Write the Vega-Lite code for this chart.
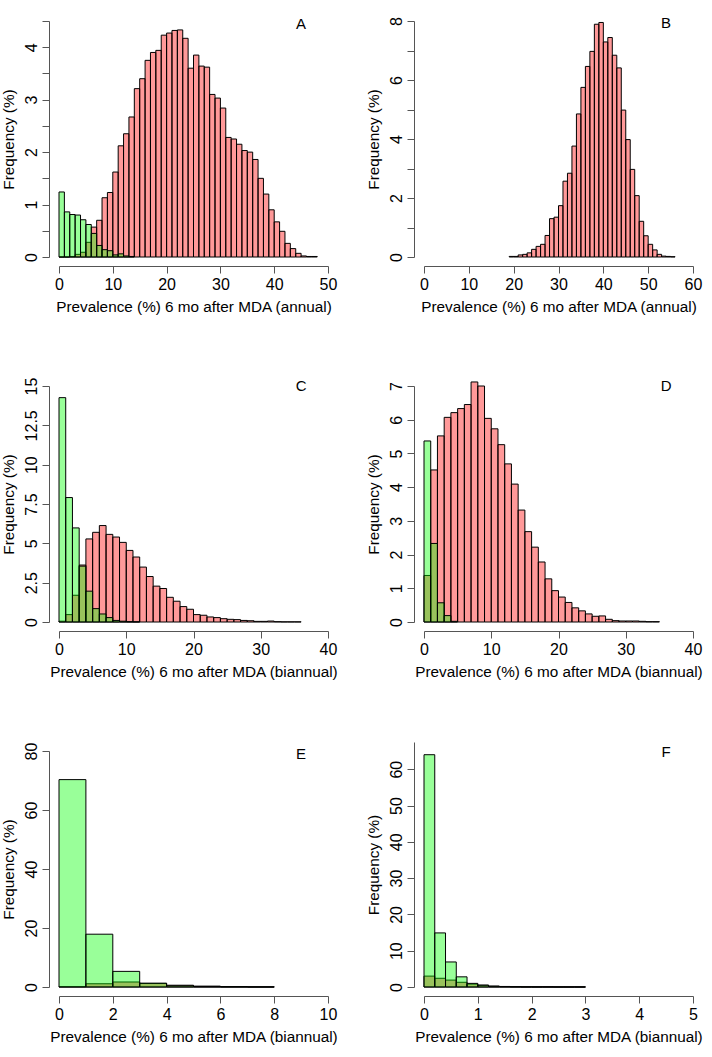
{
  "$schema": "https://vega.github.io/schema/vega-lite/v6.json",
  "padding": {"left": 1, "top": 16, "right": 5, "bottom": 5},
  "columns": 2,
  "bounds": "flush",
  "spacing": {"row": 129, "column": 96},
  "datasets": {
    "labels": [{"panel": "A"}, {"panel": "B"}, {"panel": "C"}, {"panel": "D"}, {"panel": "E"}, {"panel": "F"}],
    "A": [
      {"series":"s1","start":0,"end":1,"freq":0},{"series":"s1","start":1,"end":2,"freq":0},{"series":"s1","start":2,"end":3,"freq":0.01},{"series":"s1","start":3,"end":4,"freq":0.05},{"series":"s1","start":4,"end":5,"freq":0.09},{"series":"s1","start":5,"end":6,"freq":0.28},{"series":"s1","start":6,"end":7,"freq":0.57},{"series":"s1","start":7,"end":8,"freq":0.7},{"series":"s1","start":8,"end":9,"freq":1.13},{"series":"s1","start":9,"end":10,"freq":1.23},{"series":"s1","start":10,"end":11,"freq":1.62},{"series":"s1","start":11,"end":12,"freq":2.12},{"series":"s1","start":12,"end":13,"freq":2.35},{"series":"s1","start":13,"end":14,"freq":2.67},{"series":"s1","start":14,"end":15,"freq":3.21},{"series":"s1","start":15,"end":16,"freq":3.4},{"series":"s1","start":16,"end":17,"freq":3.75},{"series":"s1","start":17,"end":18,"freq":3.9},{"series":"s1","start":18,"end":19,"freq":3.94},{"series":"s1","start":19,"end":20,"freq":4.23},{"series":"s1","start":20,"end":21,"freq":4.27},{"series":"s1","start":21,"end":22,"freq":4.32},{"series":"s1","start":22,"end":23,"freq":4.33},{"series":"s1","start":23,"end":24,"freq":4.17},{"series":"s1","start":24,"end":25,"freq":3.6},{"series":"s1","start":25,"end":26,"freq":3.85},{"series":"s1","start":26,"end":27,"freq":3.64},{"series":"s1","start":27,"end":28,"freq":3.62},{"series":"s1","start":28,"end":29,"freq":3.1},{"series":"s1","start":29,"end":30,"freq":3.03},{"series":"s1","start":30,"end":31,"freq":2.84},{"series":"s1","start":31,"end":32,"freq":2.28},{"series":"s1","start":32,"end":33,"freq":2.25},{"series":"s1","start":33,"end":34,"freq":2.15},{"series":"s1","start":34,"end":35,"freq":2.03},{"series":"s1","start":35,"end":36,"freq":2.0},{"series":"s1","start":36,"end":37,"freq":1.86},{"series":"s1","start":37,"end":38,"freq":1.5},{"series":"s1","start":38,"end":39,"freq":1.2},{"series":"s1","start":39,"end":40,"freq":0.9},{"series":"s1","start":40,"end":41,"freq":0.67},{"series":"s1","start":41,"end":42,"freq":0.49},{"series":"s1","start":42,"end":43,"freq":0.26},{"series":"s1","start":43,"end":44,"freq":0.16},{"series":"s1","start":44,"end":45,"freq":0.07},{"series":"s1","start":45,"end":46,"freq":0.02},{"series":"s1","start":46,"end":47,"freq":0.01},{"series":"s1","start":47,"end":48,"freq":0.01},
      {"series":"s2","start":0,"end":1,"freq":1.24},{"series":"s2","start":1,"end":2,"freq":0.86},{"series":"s2","start":2,"end":3,"freq":0.81},{"series":"s2","start":3,"end":4,"freq":0.8},{"series":"s2","start":4,"end":5,"freq":0.71},{"series":"s2","start":5,"end":6,"freq":0.62},{"series":"s2","start":6,"end":7,"freq":0.45},{"series":"s2","start":7,"end":8,"freq":0.22},{"series":"s2","start":8,"end":9,"freq":0.14},{"series":"s2","start":9,"end":10,"freq":0.12},{"series":"s2","start":10,"end":11,"freq":0.04},{"series":"s2","start":11,"end":12,"freq":0.06},{"series":"s2","start":12,"end":13,"freq":0.02},{"series":"s2","start":13,"end":14,"freq":0.01}
    ],
    "B": [
      {"series":"s1","start":19,"end":20,"freq":0.02},{"series":"s1","start":20,"end":21,"freq":0.02},{"series":"s1","start":21,"end":22,"freq":0.07},{"series":"s1","start":22,"end":23,"freq":0.09},{"series":"s1","start":23,"end":24,"freq":0.14},{"series":"s1","start":24,"end":25,"freq":0.26},{"series":"s1","start":25,"end":26,"freq":0.36},{"series":"s1","start":26,"end":27,"freq":0.43},{"series":"s1","start":27,"end":28,"freq":0.73},{"series":"s1","start":28,"end":29,"freq":1.3},{"series":"s1","start":29,"end":30,"freq":1.35},{"series":"s1","start":30,"end":31,"freq":1.74},{"series":"s1","start":31,"end":32,"freq":2.57},{"series":"s1","start":32,"end":33,"freq":2.84},{"series":"s1","start":33,"end":34,"freq":3.76},{"series":"s1","start":34,"end":35,"freq":4.85},{"series":"s1","start":35,"end":36,"freq":5.75},{"series":"s1","start":36,"end":37,"freq":6.46},{"series":"s1","start":37,"end":38,"freq":6.97},{"series":"s1","start":38,"end":39,"freq":7.89},{"series":"s1","start":39,"end":40,"freq":7.95},{"series":"s1","start":40,"end":41,"freq":7.29},{"series":"s1","start":41,"end":42,"freq":7.44},{"series":"s1","start":42,"end":43,"freq":6.84},{"series":"s1","start":43,"end":44,"freq":6.41},{"series":"s1","start":44,"end":45,"freq":4.98},{"series":"s1","start":45,"end":46,"freq":3.98},{"series":"s1","start":46,"end":47,"freq":2.97},{"series":"s1","start":47,"end":48,"freq":2.08},{"series":"s1","start":48,"end":49,"freq":1.21},{"series":"s1","start":49,"end":50,"freq":0.72},{"series":"s1","start":50,"end":51,"freq":0.43},{"series":"s1","start":51,"end":52,"freq":0.24},{"series":"s1","start":52,"end":53,"freq":0.09},{"series":"s1","start":53,"end":54,"freq":0.03},{"series":"s1","start":54,"end":55,"freq":0.02},{"series":"s1","start":55,"end":56,"freq":0.01}
    ],
    "C": [
      {"series":"s1","start":0,"end":1,"freq":0.05},{"series":"s1","start":1,"end":2,"freq":0.47},{"series":"s1","start":2,"end":3,"freq":1.7},{"series":"s1","start":3,"end":4,"freq":3.62},{"series":"s1","start":4,"end":5,"freq":5.28},{"series":"s1","start":5,"end":6,"freq":5.7},{"series":"s1","start":6,"end":7,"freq":6.13},{"series":"s1","start":7,"end":8,"freq":5.57},{"series":"s1","start":8,"end":9,"freq":5.4},{"series":"s1","start":9,"end":10,"freq":5.06},{"series":"s1","start":10,"end":11,"freq":4.55},{"series":"s1","start":11,"end":12,"freq":4.13},{"series":"s1","start":12,"end":13,"freq":3.49},{"series":"s1","start":13,"end":14,"freq":2.89},{"series":"s1","start":14,"end":15,"freq":2.28},{"series":"s1","start":15,"end":16,"freq":2.13},{"series":"s1","start":16,"end":17,"freq":1.57},{"series":"s1","start":17,"end":18,"freq":1.32},{"series":"s1","start":18,"end":19,"freq":0.98},{"series":"s1","start":19,"end":20,"freq":0.81},{"series":"s1","start":20,"end":21,"freq":0.47},{"series":"s1","start":21,"end":22,"freq":0.43},{"series":"s1","start":22,"end":23,"freq":0.32},{"series":"s1","start":23,"end":24,"freq":0.28},{"series":"s1","start":24,"end":25,"freq":0.21},{"series":"s1","start":25,"end":26,"freq":0.17},{"series":"s1","start":26,"end":27,"freq":0.15},{"series":"s1","start":27,"end":28,"freq":0.1},{"series":"s1","start":28,"end":29,"freq":0.08},{"series":"s1","start":29,"end":30,"freq":0.04},{"series":"s1","start":30,"end":31,"freq":0.04},{"series":"s1","start":31,"end":32,"freq":0.06},{"series":"s1","start":32,"end":33,"freq":0.02},{"series":"s1","start":33,"end":34,"freq":0.01},{"series":"s1","start":34,"end":35,"freq":0.01},{"series":"s1","start":35,"end":36,"freq":0.01},
      {"series":"s2","start":0,"end":1,"freq":14.26},{"series":"s2","start":1,"end":2,"freq":7.91},{"series":"s2","start":2,"end":3,"freq":5.98},{"series":"s2","start":3,"end":4,"freq":3.55},{"series":"s2","start":4,"end":5,"freq":1.96},{"series":"s2","start":5,"end":6,"freq":0.85},{"series":"s2","start":6,"end":7,"freq":0.51},{"series":"s2","start":7,"end":8,"freq":0.28},{"series":"s2","start":8,"end":9,"freq":0.1},{"series":"s2","start":9,"end":10,"freq":0.05},{"series":"s2","start":10,"end":11,"freq":0.02},{"series":"s2","start":11,"end":12,"freq":0.01}
    ],
    "D": [
      {"series":"s1","start":0,"end":1,"freq":1.38},{"series":"s1","start":1,"end":2,"freq":4.51},{"series":"s1","start":2,"end":3,"freq":5.52},{"series":"s1","start":3,"end":4,"freq":6.07},{"series":"s1","start":4,"end":5,"freq":6.21},{"series":"s1","start":5,"end":6,"freq":6.33},{"series":"s1","start":6,"end":7,"freq":6.45},{"series":"s1","start":7,"end":8,"freq":7.12},{"series":"s1","start":8,"end":9,"freq":7.0},{"series":"s1","start":9,"end":10,"freq":6.04},{"series":"s1","start":10,"end":11,"freq":5.73},{"series":"s1","start":11,"end":12,"freq":5.26},{"series":"s1","start":12,"end":13,"freq":4.69},{"series":"s1","start":13,"end":14,"freq":4.09},{"series":"s1","start":14,"end":15,"freq":3.32},{"series":"s1","start":15,"end":16,"freq":2.68},{"series":"s1","start":16,"end":17,"freq":2.22},{"series":"s1","start":17,"end":18,"freq":1.78},{"series":"s1","start":18,"end":19,"freq":1.28},{"series":"s1","start":19,"end":20,"freq":0.93},{"series":"s1","start":20,"end":21,"freq":0.74},{"series":"s1","start":21,"end":22,"freq":0.58},{"series":"s1","start":22,"end":23,"freq":0.42},{"series":"s1","start":23,"end":24,"freq":0.33},{"series":"s1","start":24,"end":25,"freq":0.24},{"series":"s1","start":25,"end":26,"freq":0.17},{"series":"s1","start":26,"end":27,"freq":0.18},{"series":"s1","start":27,"end":28,"freq":0.08},{"series":"s1","start":28,"end":29,"freq":0.04},{"series":"s1","start":29,"end":30,"freq":0.03},{"series":"s1","start":30,"end":31,"freq":0.03},{"series":"s1","start":31,"end":32,"freq":0.03},{"series":"s1","start":32,"end":33,"freq":0.02},{"series":"s1","start":33,"end":34,"freq":0.01},{"series":"s1","start":34,"end":35,"freq":0.01},
      {"series":"s2","start":0,"end":1,"freq":5.37},{"series":"s2","start":1,"end":2,"freq":2.33},{"series":"s2","start":2,"end":3,"freq":0.57},{"series":"s2","start":3,"end":4,"freq":0.19},{"series":"s2","start":4,"end":5,"freq":0.02}
    ],
    "E": [
      {"series":"s1","start":0,"end":1,"freq":0.1},{"series":"s1","start":1,"end":2,"freq":1.1},{"series":"s1","start":2,"end":3,"freq":1.7},{"series":"s1","start":3,"end":4,"freq":1.2},{"series":"s1","start":4,"end":5,"freq":0.6},{"series":"s1","start":5,"end":6,"freq":0.3},{"series":"s1","start":6,"end":7,"freq":0.15},{"series":"s1","start":7,"end":8,"freq":0.05},
      {"series":"s2","start":0,"end":1,"freq":70.3},{"series":"s2","start":1,"end":2,"freq":17.9},{"series":"s2","start":2,"end":3,"freq":5.3},{"series":"s2","start":3,"end":4,"freq":1.3},{"series":"s2","start":4,"end":5,"freq":0.4},{"series":"s2","start":5,"end":6,"freq":0.15},{"series":"s2","start":6,"end":7,"freq":0.05},{"series":"s2","start":7,"end":8,"freq":0.02}
    ],
    "F": [
      {"series":"s1","start":0,"end":0.2,"freq":3.0},{"series":"s1","start":0.2,"end":0.4,"freq":2.4},{"series":"s1","start":0.4,"end":0.6,"freq":1.9},{"series":"s1","start":0.6,"end":0.8,"freq":1.3},{"series":"s1","start":0.8,"end":1.0,"freq":0.8},{"series":"s1","start":1.0,"end":1.2,"freq":0.5},{"series":"s1","start":1.2,"end":1.4,"freq":0.25},{"series":"s1","start":1.4,"end":1.6,"freq":0.15},{"series":"s1","start":1.6,"end":1.8,"freq":0.1},{"series":"s1","start":1.8,"end":2.0,"freq":0.05},{"series":"s1","start":2.0,"end":2.2,"freq":0.04},{"series":"s1","start":2.2,"end":2.4,"freq":0.05},{"series":"s1","start":2.4,"end":2.6,"freq":0.02},{"series":"s1","start":2.6,"end":2.8,"freq":0.02},{"series":"s1","start":2.8,"end":3.0,"freq":0.02},
      {"series":"s2","start":0,"end":0.2,"freq":64.0},{"series":"s2","start":0.2,"end":0.4,"freq":14.9},{"series":"s2","start":0.4,"end":0.6,"freq":6.9},{"series":"s2","start":0.6,"end":0.8,"freq":2.8},{"series":"s2","start":0.8,"end":1.0,"freq":1.0},{"series":"s2","start":1.0,"end":1.2,"freq":0.5},{"series":"s2","start":1.2,"end":1.4,"freq":0.2},{"series":"s2","start":1.4,"end":1.6,"freq":0.1},{"series":"s2","start":1.6,"end":1.8,"freq":0.05},{"series":"s2","start":1.8,"end":2.0,"freq":0.03},{"series":"s2","start":2.0,"end":2.2,"freq":0.02},{"series":"s2","start":2.2,"end":2.4,"freq":0.02},{"series":"s2","start":2.4,"end":2.6,"freq":0.01},{"series":"s2","start":2.6,"end":2.8,"freq":0.01},{"series":"s2","start":2.8,"end":3.0,"freq":0.01}
    ]
  },
  "concat": [
    {
      "width": 269, "height": 236,
      "layer": [
        {"data": {"name": "A"},
         "encoding": {
           "x": {"field": "start", "type": "quantitative", "scale": {"domain": [0, 50], "nice": false, "zero": false}, "axis": {"values": [0, 10, 20, 30, 40, 50], "labelExpr": "'' + datum.value", "labelOverlap": false, "title": "Prevalence (%) 6 mo after MDA (annual)"}},
           "x2": {"field": "end"},
           "y": {"field": "freq", "type": "quantitative", "scale": {"domain": [0, 4.5], "nice": false}, "axis": {"values": [0, 0.5, 1, 1.5, 2, 2.5, 3, 3.5, 4, 4.5], "labelExpr": "datum.value % 1 === 0 ? '' + datum.value : ''", "labelOverlap": false, "title": "Frequency (%)"}},
           "y2": {"datum": 0}
         },
         "layer": [
           {"transform": [{"filter": "datum.series === 's1'"}], "mark": {"type": "rect", "fill": "#ff0000", "fillOpacity": 0.4, "stroke": "#000000", "strokeWidth": 1}},
           {"transform": [{"filter": "datum.series === 's2'"}], "mark": {"type": "rect", "fill": "#00ff00", "fillOpacity": 0.4, "stroke": "#000000", "strokeWidth": 1}}
         ]},
        {"data": {"name": "labels"}, "transform": [{"filter": "datum.panel === 'A'"}],
         "mark": {"type": "text", "fontSize": 15, "align": "center", "baseline": "middle", "color": "#000000"},
         "encoding": {
           "x": {"datum": 45, "type": "quantitative", "axis": {"values": [0, 10, 20, 30, 40, 50], "labelExpr": "'' + datum.value", "labelOverlap": false, "title": "Prevalence (%) 6 mo after MDA (annual)"}},
           "y": {"datum": 4.45, "type": "quantitative", "axis": {"values": [0, 0.5, 1, 1.5, 2, 2.5, 3, 3.5, 4, 4.5], "labelExpr": "datum.value % 1 === 0 ? '' + datum.value : ''", "labelOverlap": false, "title": "Frequency (%)"}},
           "text": {"field": "panel"}}}
      ]
    },
    {
      "width": 269, "height": 236,
      "layer": [
        {"data": {"name": "B"},
         "encoding": {
           "x": {"field": "start", "type": "quantitative", "scale": {"domain": [0, 60], "nice": false, "zero": false}, "axis": {"values": [0, 10, 20, 30, 40, 50, 60], "labelExpr": "'' + datum.value", "labelOverlap": false, "title": "Prevalence (%) 6 mo after MDA (annual)"}},
           "x2": {"field": "end"},
           "y": {"field": "freq", "type": "quantitative", "scale": {"domain": [0, 8], "nice": false}, "axis": {"values": [0, 1, 2, 3, 4, 5, 6, 7, 8], "labelExpr": "datum.value % 2 === 0 ? '' + datum.value : ''", "labelOverlap": false, "title": "Frequency (%)"}},
           "y2": {"datum": 0}
         },
         "layer": [
           {"transform": [{"filter": "datum.series === 's1'"}], "mark": {"type": "rect", "fill": "#ff0000", "fillOpacity": 0.4, "stroke": "#000000", "strokeWidth": 1}}
         ]},
        {"data": {"name": "labels"}, "transform": [{"filter": "datum.panel === 'B'"}],
         "mark": {"type": "text", "fontSize": 15, "align": "center", "baseline": "middle", "color": "#000000"},
         "encoding": {
           "x": {"datum": 54, "type": "quantitative", "axis": {"values": [0, 10, 20, 30, 40, 50, 60], "labelExpr": "'' + datum.value", "labelOverlap": false, "title": "Prevalence (%) 6 mo after MDA (annual)"}},
           "y": {"datum": 7.92, "type": "quantitative", "axis": {"values": [0, 1, 2, 3, 4, 5, 6, 7, 8], "labelExpr": "datum.value % 2 === 0 ? '' + datum.value : ''", "labelOverlap": false, "title": "Frequency (%)"}},
           "text": {"field": "panel"}}}
      ]
    },
    {
      "width": 269, "height": 236,
      "layer": [
        {"data": {"name": "C"},
         "encoding": {
           "x": {"field": "start", "type": "quantitative", "scale": {"domain": [0, 40], "nice": false, "zero": false}, "axis": {"values": [0, 10, 20, 30, 40], "labelExpr": "'' + datum.value", "labelOverlap": false, "title": "Prevalence (%) 6 mo after MDA (biannual)"}},
           "x2": {"field": "end"},
           "y": {"field": "freq", "type": "quantitative", "scale": {"domain": [0, 15], "nice": false}, "axis": {"values": [0, 2.5, 5, 7.5, 10, 12.5, 15], "labelExpr": "'' + datum.value", "labelOverlap": false, "title": "Frequency (%)"}},
           "y2": {"datum": 0}
         },
         "layer": [
           {"transform": [{"filter": "datum.series === 's1'"}], "mark": {"type": "rect", "fill": "#ff0000", "fillOpacity": 0.4, "stroke": "#000000", "strokeWidth": 1}},
           {"transform": [{"filter": "datum.series === 's2'"}], "mark": {"type": "rect", "fill": "#00ff00", "fillOpacity": 0.4, "stroke": "#000000", "strokeWidth": 1}}
         ]},
        {"data": {"name": "labels"}, "transform": [{"filter": "datum.panel === 'C'"}],
         "mark": {"type": "text", "fontSize": 15, "align": "center", "baseline": "middle", "color": "#000000"},
         "encoding": {
           "x": {"datum": 36, "type": "quantitative", "axis": {"values": [0, 10, 20, 30, 40], "labelExpr": "'' + datum.value", "labelOverlap": false, "title": "Prevalence (%) 6 mo after MDA (biannual)"}},
           "y": {"datum": 15, "type": "quantitative", "axis": {"values": [0, 2.5, 5, 7.5, 10, 12.5, 15], "labelExpr": "'' + datum.value", "labelOverlap": false, "title": "Frequency (%)"}},
           "text": {"field": "panel"}}}
      ]
    },
    {
      "width": 269, "height": 236,
      "layer": [
        {"data": {"name": "D"},
         "encoding": {
           "x": {"field": "start", "type": "quantitative", "scale": {"domain": [0, 40], "nice": false, "zero": false}, "axis": {"values": [0, 10, 20, 30, 40], "labelExpr": "'' + datum.value", "labelOverlap": false, "title": "Prevalence (%) 6 mo after MDA (biannual)"}},
           "x2": {"field": "end"},
           "y": {"field": "freq", "type": "quantitative", "scale": {"domain": [0, 7], "nice": false}, "axis": {"values": [0, 1, 2, 3, 4, 5, 6, 7], "labelExpr": "'' + datum.value", "labelOverlap": false, "title": "Frequency (%)"}},
           "y2": {"datum": 0}
         },
         "layer": [
           {"transform": [{"filter": "datum.series === 's1'"}], "mark": {"type": "rect", "fill": "#ff0000", "fillOpacity": 0.4, "stroke": "#000000", "strokeWidth": 1}},
           {"transform": [{"filter": "datum.series === 's2'"}], "mark": {"type": "rect", "fill": "#00ff00", "fillOpacity": 0.4, "stroke": "#000000", "strokeWidth": 1}}
         ]},
        {"data": {"name": "labels"}, "transform": [{"filter": "datum.panel === 'D'"}],
         "mark": {"type": "text", "fontSize": 15, "align": "center", "baseline": "middle", "color": "#000000"},
         "encoding": {
           "x": {"datum": 36, "type": "quantitative", "axis": {"values": [0, 10, 20, 30, 40], "labelExpr": "'' + datum.value", "labelOverlap": false, "title": "Prevalence (%) 6 mo after MDA (biannual)"}},
           "y": {"datum": 7, "type": "quantitative", "axis": {"values": [0, 1, 2, 3, 4, 5, 6, 7], "labelExpr": "'' + datum.value", "labelOverlap": false, "title": "Frequency (%)"}},
           "text": {"field": "panel"}}}
      ]
    },
    {
      "width": 269, "height": 236,
      "layer": [
        {"data": {"name": "E"},
         "encoding": {
           "x": {"field": "start", "type": "quantitative", "scale": {"domain": [0, 10], "nice": false, "zero": false}, "axis": {"values": [0, 2, 4, 6, 8, 10], "labelExpr": "'' + datum.value", "labelOverlap": false, "title": "Prevalence (%) 6 mo after MDA (biannual)"}},
           "x2": {"field": "end"},
           "y": {"field": "freq", "type": "quantitative", "scale": {"domain": [0, 80], "nice": false}, "axis": {"values": [0, 20, 40, 60, 80], "labelExpr": "'' + datum.value", "labelOverlap": false, "title": "Frequency (%)"}},
           "y2": {"datum": 0}
         },
         "layer": [
           {"transform": [{"filter": "datum.series === 's1'"}], "mark": {"type": "rect", "fill": "#ff0000", "fillOpacity": 0.4, "stroke": "#000000", "strokeWidth": 1}},
           {"transform": [{"filter": "datum.series === 's2'"}], "mark": {"type": "rect", "fill": "#00ff00", "fillOpacity": 0.4, "stroke": "#000000", "strokeWidth": 1}}
         ]},
        {"data": {"name": "labels"}, "transform": [{"filter": "datum.panel === 'E'"}],
         "mark": {"type": "text", "fontSize": 15, "align": "center", "baseline": "middle", "color": "#000000"},
         "encoding": {
           "x": {"datum": 9, "type": "quantitative", "axis": {"values": [0, 2, 4, 6, 8, 10], "labelExpr": "'' + datum.value", "labelOverlap": false, "title": "Prevalence (%) 6 mo after MDA (biannual)"}},
           "y": {"datum": 79, "type": "quantitative", "axis": {"values": [0, 20, 40, 60, 80], "labelExpr": "'' + datum.value", "labelOverlap": false, "title": "Frequency (%)"}},
           "text": {"field": "panel"}}}
      ]
    },
    {
      "width": 269, "height": 236,
      "layer": [
        {"data": {"name": "F"},
         "encoding": {
           "x": {"field": "start", "type": "quantitative", "scale": {"domain": [0, 5], "nice": false, "zero": false}, "axis": {"values": [0, 1, 2, 3, 4, 5], "labelExpr": "'' + datum.value", "labelOverlap": false, "title": "Prevalence (%) 6 mo after MDA (biannual)"}},
           "x2": {"field": "end"},
           "y": {"field": "freq", "type": "quantitative", "scale": {"domain": [0, 67.5], "range": [236, -9], "nice": false}, "axis": {"values": [0, 10, 20, 30, 40, 50, 60], "labelExpr": "'' + datum.value", "labelOverlap": false, "title": "Frequency (%)"}},
           "y2": {"datum": 0}
         },
         "layer": [
           {"transform": [{"filter": "datum.series === 's1'"}], "mark": {"type": "rect", "fill": "#ff0000", "fillOpacity": 0.4, "stroke": "#000000", "strokeWidth": 1}},
           {"transform": [{"filter": "datum.series === 's2'"}], "mark": {"type": "rect", "fill": "#00ff00", "fillOpacity": 0.4, "stroke": "#000000", "strokeWidth": 1}}
         ]},
        {"data": {"name": "labels"}, "transform": [{"filter": "datum.panel === 'F'"}],
         "mark": {"type": "text", "fontSize": 15, "align": "center", "baseline": "middle", "color": "#000000"},
         "encoding": {
           "x": {"datum": 4.5, "type": "quantitative", "axis": {"values": [0, 1, 2, 3, 4, 5], "labelExpr": "'' + datum.value", "labelOverlap": false, "title": "Prevalence (%) 6 mo after MDA (biannual)"}},
           "y": {"datum": 64.7, "type": "quantitative", "axis": {"values": [0, 10, 20, 30, 40, 50, 60], "labelExpr": "'' + datum.value", "labelOverlap": false, "title": "Frequency (%)"}},
           "text": {"field": "panel"}}}
      ]
    }
  ],
  "config": {
    "font": "Liberation Sans",
    "background": "#ffffff",
    "view": {"stroke": null},
    "axis": {"grid": false, "domainColor": "#555555", "tickColor": "#555555", "labelColor": "#000000", "titleColor": "#000000", "labelFontSize": 16, "titleFontSize": 15.3, "titleFontWeight": "normal", "labelFont": "Liberation Sans", "titleFont": "Liberation Sans", "tickSize": 7, "labelFlush": false, "labelOverlap": false, "labelBound": false, "domainWidth": 1, "tickWidth": 1},
    "axisX": {"offset": 9, "labelPadding": 3, "titlePadding": 7},
    "axisY": {"offset": 10, "labelAngle": -90, "labelAlign": "center", "labelBaseline": "bottom", "labelPadding": 3, "titlePadding": 7}
  }
}
